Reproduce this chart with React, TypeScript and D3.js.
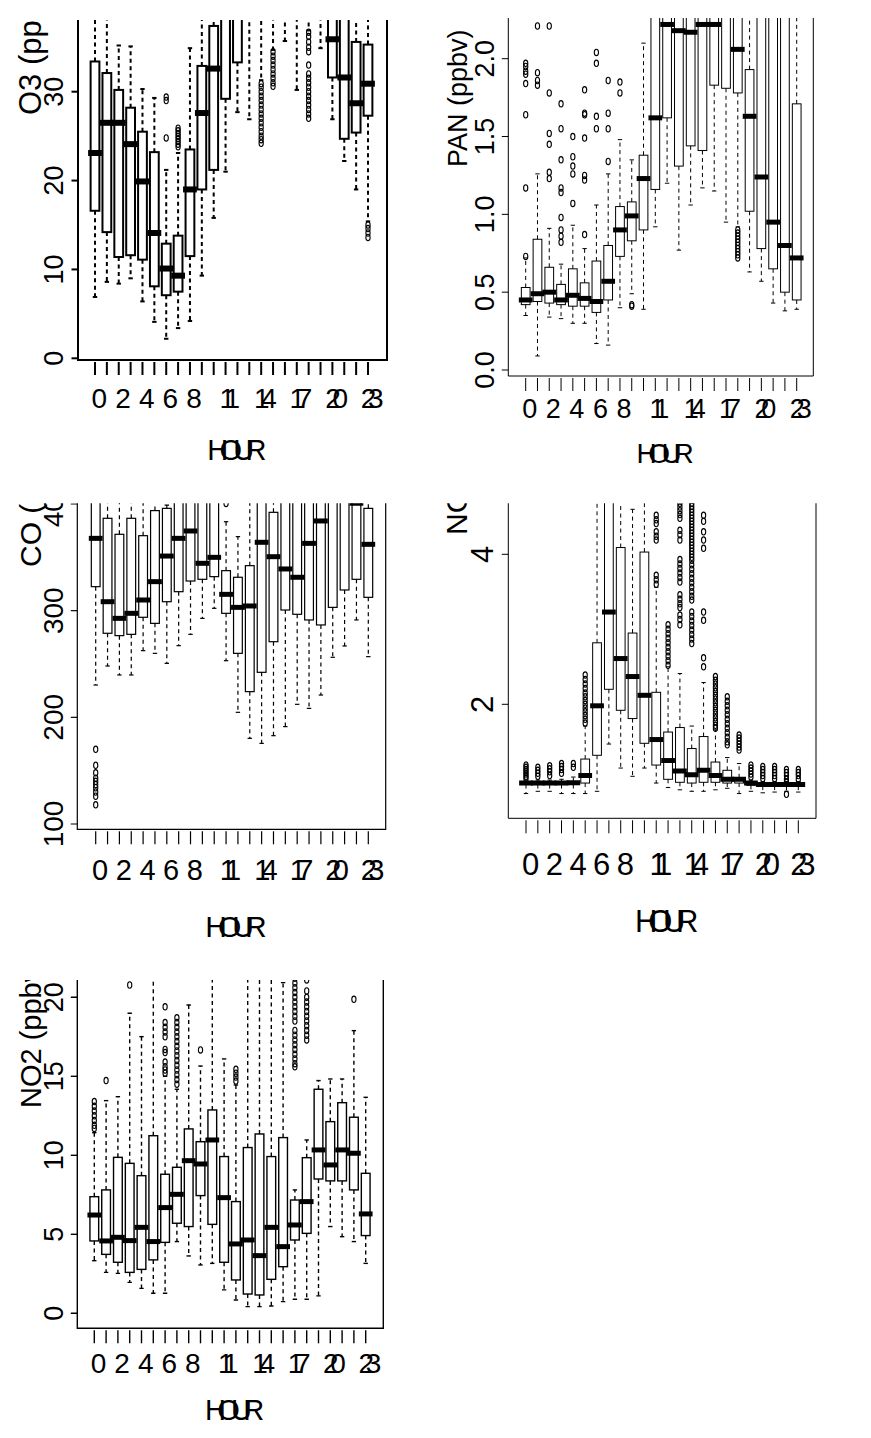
import React from "react";
import * as d3 from "d3";

const FONT = "'Liberation Sans', Arial, Helvetica, sans-serif";

const hours = [0, 1, 2, 3, 4, 5, 6, 7, 8, 9, 10, 11, 12, 13, 14, 15, 16, 17, 18, 19, 20, 21, 22, 23];
const labeledHours = [0, 2, 4, 6, 8, 11, 14, 17, 20, 23];

// ---------- O3 ----------
const o3Low = [6.9, 8.6, 8.4, 9.0, 6.4, 4.1, 2.2, 3.4, 4.2, 9.3, 15.8, 21.0, 27.7, 26.9, 31.3, 34.7, 35.7, 30.2, 36.9, 34.9, 26.9, 22.2, 19.0, 15.4];
const o3Q1 = [16.6, 14.2, 11.4, 11.6, 11.1, 8.1, 7.1, 7.5, 11.5, 19.0, 21.2, 29.2, 33.3, 39.5, 40.5, 41.0, 42.0, 40.0, 42.0, 41.0, 31.6, 24.7, 25.4, 27.3];
const o3Med = [23.1, 26.5, 26.5, 24.1, 19.9, 14.1, 10.1, 9.3, 19.0, 27.6, 32.6, 40.0, 42.0, 45.0, 46.0, 47.0, 48.0, 46.0, 47.0, 46.0, 35.9, 31.6, 28.7, 30.9];
const o3Q3 = [33.4, 32.1, 30.2, 28.2, 25.5, 23.2, 12.9, 13.8, 23.5, 32.9, 37.4, 50.0, 52.0, 55.0, 54.0, 55.0, 56.0, 54.0, 55.0, 53.0, 41.0, 40.0, 35.6, 35.3];
const o3High = [45, 44, 35.2, 35.1, 30.3, 29.3, 21.2, 23.1, 34.9, 46, 50, 60, 62, 65, 64, 66, 66, 64, 65, 63, 48, 47, 45, 43];
const o3Out = [
  [], [], [], [], [], [],
  [29.4, 29.0, 24.8],
  [25.9, 25.6, 25.3, 25.0, 24.7, 24.4, 24.1, 23.8],
  [], [], [], [], [], [],
  [30.9, 30.5, 30.0, 29.5, 29.0, 28.5, 28.0, 27.5, 27.0, 26.5, 26.0, 25.5, 25.0, 24.6, 24.2],
  [34.5, 34.0, 33.5, 33.0, 32.5, 32.0, 31.5, 31.0, 30.6],
  [], [],
  [36.7, 36.2, 35.6, 35.0, 34.5, 33.0, 32.0, 31.5, 31.0, 30.5, 30.0, 29.5, 29.0, 28.5, 28.0, 27.5, 27.0],
  [], [], [], [],
  [15.0, 14.6, 14.1, 13.6],
];

// ---------- PAN ----------
const panLow = [0.35, 0.09, 0.34, 0.33, 0.30, 0.30, 0.17, 0.16, 0.40, 0.49, 0.39, 0.92, 1.20, 0.77, 1.06, 1.17, 1.15, 0.95, 0.92, 0.63, 0.57, 0.43, 0.38, 0.39];
const panQ1 = [0.42, 0.44, 0.43, 0.42, 0.41, 0.41, 0.37, 0.45, 0.73, 0.83, 0.90, 1.16, 1.62, 1.31, 1.44, 1.41, 1.83, 1.81, 1.78, 1.02, 0.78, 0.65, 0.50, 0.45];
const panMed = [0.45, 0.49, 0.50, 0.45, 0.48, 0.46, 0.44, 0.57, 0.90, 0.99, 1.23, 1.62, 2.22, 2.18, 2.17, 2.22, 2.22, 2.32, 2.06, 1.63, 1.24, 0.95, 0.80, 0.72];
const panQ3 = [0.53, 0.84, 0.66, 0.55, 0.65, 0.56, 0.70, 0.80, 1.05, 1.08, 1.38, 2.50, 2.60, 2.70, 2.60, 2.70, 2.60, 2.70, 2.50, 1.93, 2.40, 2.35, 2.30, 1.71];
const panHigh = [0.72, 1.26, 0.91, 0.68, 0.93, 0.78, 1.06, 1.26, 1.48, 1.35, 2.10, 3.0, 3.2, 3.3, 3.2, 3.3, 3.2, 3.3, 3.0, 2.8, 2.9, 2.8, 2.7, 2.6];
const panOut = [
  [0.73, 1.17, 1.64, 1.84, 1.90, 1.92, 1.95, 1.97],
  [2.21, 1.91, 1.86, 1.83],
  [2.21, 1.78, 1.52, 1.45, 1.27, 1.23],
  [1.71, 1.55, 1.35, 1.17, 1.14, 0.98, 0.90, 0.86, 0.82],
  [1.50, 1.37, 1.31, 1.26, 1.07],
  [1.80, 1.65, 1.64, 1.49, 1.25, 1.22, 0.87],
  [2.04, 1.97, 1.63, 1.55],
  [1.86, 1.65, 1.55, 1.34],
  [1.85, 1.78],
  [0.42, 0.41],
  [], [], [], [], [], [], [], [],
  [0.90, 0.88, 0.86, 0.84, 0.82, 0.80, 0.78, 0.76, 0.74, 0.72],
  [], [], [], [], [],
];

// ---------- CO ----------
const coLow = [230.3, 248.1, 239.7, 239.7, 262.5, 260, 250.6, 267.2, 277.8, 292.8, 302.2, 253.1, 204.7, 180.3, 175.6, 182.8, 191.3, 212.2, 208.4, 220.9, 256.3, 266.9, 291.3, 256.9];
const coQ1 = [322.5, 278.8, 276.6, 277.8, 293.8, 288.1, 308.4, 317.8, 327.8, 329.4, 331.9, 297.5, 260, 224.1, 242.2, 270.9, 300.6, 296.6, 291.3, 286.6, 303.1, 319.4, 329.4, 312.5];
const coMed = [367.8, 308.4, 292.8, 297.5, 310.0, 327.2, 351.2, 367.8, 374.7, 344.4, 350, 315.3, 303.1, 304.4, 364.1, 350.6, 339.1, 331.3, 363.1, 384.1, 410, 415, 400.6, 362.2];
const coQ3 = [410, 386.6, 371.6, 386.6, 370.3, 393.8, 395.9, 420, 415, 410, 405, 337.5, 331.3, 342.2, 410, 392.2, 408, 412, 415, 420, 430, 425, 430, 395.9];
const coHigh = [450, 440, 435, 445, 430, 440, 399, 460, 450, 440, 430, 383.4, 369.4, 420, 450, 440, 445, 450, 455, 460, 470, 460, 470, 450];
const coOut = [
  [170, 155, 148, 143, 140, 137, 134, 130, 126, 118],
  [], [], [], [], [], [], [], [], [], [],
  [400.5],
  [], [], [], [], [], [], [], [], [], [], [], [],
];

// ---------- NO ----------
const noLow = [0.81, 0.84, 0.84, 0.81, 0.81, 0.81, 0.84, 1.47, 1.15, 1.04, 1.15, 0.95, 0.89, 0.86, 0.84, 0.84, 0.86, 0.88, 0.81, 0.84, 0.82, 0.83, 0.84, 0.83];
const noQ1 = [0.93, 0.93, 0.93, 0.93, 0.93, 0.95, 1.32, 2.20, 1.92, 1.81, 1.48, 1.19, 1.00, 0.96, 0.95, 0.96, 0.96, 0.95, 0.95, 0.92, 0.91, 0.91, 0.91, 0.91];
const noMed = [0.95, 0.95, 0.95, 0.95, 0.955, 1.05, 1.98, 3.23, 2.61, 2.37, 2.12, 1.53, 1.25, 1.11, 1.06, 1.12, 1.05, 1.00, 1.00, 0.95, 0.93, 0.93, 0.93, 0.93];
const noQ3 = [0.96, 0.96, 0.96, 0.96, 0.97, 1.27, 2.82, 5.00, 4.09, 2.95, 4.03, 2.16, 1.63, 1.69, 1.41, 1.57, 1.23, 1.12, 1.02, 0.96, 0.94, 0.94, 0.94, 0.94];
const noHigh = [0.99, 0.99, 0.99, 1.00, 1.03, 1.71, 5.5, 6.5, 6.0, 4.6, 5.8, 3.56, 2.50, 2.41, 1.71, 2.29, 1.66, 1.29, 1.21, 0.99, 0.97, 0.97, 0.97, 0.97];
const noOut = [
  [1.19, 1.16, 1.13, 1.10, 1.07, 1.04, 1.01],
  [1.16, 1.12, 1.08, 1.04],
  [1.18, 1.14, 1.10, 1.05],
  [1.21, 1.17, 1.13, 1.08],
  [1.21, 1.16],
  [2.39, 2.33, 2.27, 2.21, 2.15, 2.10, 2.05, 2.00, 1.95, 1.90, 1.85, 1.80, 1.75],
  [], [], [], [], [],
  [4.52, 4.46, 4.41, 4.30, 4.24, 4.19, 3.72, 3.66, 3.60],
  [3.06, 3.00, 2.94, 2.88, 2.82, 2.76, 2.70, 2.64, 2.58, 2.52],
  [4.68, 4.63, 4.58, 4.53, 4.48, 4.32, 4.26, 4.19, 3.93, 3.87, 3.81, 3.75, 3.69, 3.63, 3.46, 3.40, 3.34, 3.29, 3.19, 3.13, 3.06],
  [4.68, 4.64, 4.60, 4.56, 4.52, 4.48, 4.44, 4.40, 4.36, 4.32, 4.28, 4.24, 4.20, 4.16, 4.12, 4.08, 4.04, 4.00, 3.96, 3.92, 3.86, 3.80, 3.74, 3.68, 3.62, 3.56, 3.50, 3.44, 3.39, 3.23, 3.17, 3.11, 3.05, 2.99, 2.93, 2.87, 2.81],
  [4.52, 4.44, 4.30, 4.19, 4.08, 3.23, 3.12, 2.62, 2.50],
  [2.37, 2.32, 2.27, 2.22, 2.17, 2.12, 2.07, 2.02, 1.97, 1.92, 1.87, 1.82, 1.77, 1.72, 1.68],
  [2.10, 2.04, 1.98, 1.92, 1.86, 1.80, 1.74, 1.68, 1.62, 1.56, 1.50, 1.46],
  [1.59, 1.55, 1.51, 1.47, 1.43, 1.39],
  [1.19, 1.15, 1.11, 1.07, 1.03],
  [1.17, 1.13, 1.09, 1.05, 1.01],
  [1.17, 1.13, 1.09, 1.05, 1.01],
  [1.13, 1.09, 1.05, 1.00, 0.96, 0.80],
  [1.13, 1.09, 1.05, 1.00],
];

// ---------- NO2 ----------
const no2Low = [3.33, 2.59, 2.53, 1.96, 1.58, 1.27, 1.27, 4.54, 3.63, 3.06, 3.16, 1.48, 0.84, 0.42, 0.42, 0.46, 0.74, 0.89, 0.89, 1.10, 5.49, 4.85, 4.54, 3.16];
const no2Q1 = [4.58, 3.73, 3.23, 2.59, 2.78, 3.38, 4.49, 5.70, 5.49, 7.45, 5.63, 3.23, 2.11, 1.22, 1.16, 2.15, 2.95, 4.64, 5.06, 8.50, 8.38, 8.38, 7.81, 4.92];
const no2Med = [6.22, 4.58, 4.81, 4.60, 5.44, 4.54, 6.69, 7.53, 9.66, 9.45, 10.97, 7.32, 4.39, 4.64, 3.65, 5.44, 4.22, 5.59, 7.07, 10.34, 9.39, 10.34, 10.13, 6.29];
const no2Q3 = [7.38, 7.81, 9.87, 9.49, 8.71, 11.24, 8.80, 9.24, 11.67, 10.86, 12.87, 9.92, 7.07, 10.49, 11.35, 9.92, 11.12, 7.17, 9.85, 14.18, 12.13, 13.33, 12.41, 8.86];
const no2High = [11.43, 13.46, 13.71, 18.99, 17.51, 23, 15.0, 14.18, 19.51, 15.65, 24, 16.1, 14.45, 24, 25, 23, 20.93, 7.81, 10.97, 14.73, 14.83, 14.83, 17.89, 13.67];
const no2Out = [
  [13.4, 13.1, 12.8, 12.5, 12.2, 11.9, 11.7],
  [14.73],
  [],
  [20.78],
  [], [],
  [19.4, 18.4, 18.1, 17.8, 17.5, 16.7, 16.5, 15.9, 15.6, 15.4, 15.2],
  [18.7, 18.4, 18.1, 17.8, 17.5, 17.2, 16.9, 16.6, 16.3, 16.0, 15.7, 15.4, 15.1, 14.8, 14.5],
  [],
  [16.67],
  [], [],
  [15.44, 15.2, 14.95, 14.7],
  [], [], [], [],
  [21.2, 20.9, 20.6, 20.3, 20.0, 19.7, 19.4, 19.1, 18.8, 18.5, 17.9, 17.6, 17.3, 17.0, 16.7, 16.4, 16.1, 15.8, 15.6],
  [21.1, 20.4, 20.0, 19.7, 19.4, 19.1, 18.8, 18.5, 18.2, 17.9, 17.6, 17.3],
  [], [], [],
  [19.87],
  [],
];

const o3Ticks = [0, 10, 20, 30];
const panTicks = [0, 0.5, 1.0, 1.5, 2.0];
const coTicks = [100, 200, 300, 400];
const noTicks = [2, 4];
const no2Ticks = [0, 5, 10, 15, 20];

const panels = [
  {
    key: "o3", title: "O3 (ppbv)", low: o3Low, q1: o3Q1, med: o3Med, q3: o3Q3, high: o3High, out: o3Out,
    ticks: o3Ticks, fmt: (d: number) => String(d),
    left: 78, right: 387, bottom: 360, clipTop: 20, yDomain: [0, 30], yRange: [358.3, 91.7], x0: 95, x23: 368,
    titleX: 41, titleY: 115, yLabX: 63, xLabY: 408, hourY: 460, sw: 2, medW: 6,
    fTick: 27, fX: 28, fHour: 29, fTitle: 31,
  },
  {
    key: "pan", title: "PAN (ppbv)", low: panLow, q1: panQ1, med: panMed, q3: panQ3, high: panHigh, out: panOut,
    ticks: panTicks, fmt: d3.format(".1f"),
    left: 508.3, right: 813.3, bottom: 376, clipTop: 18, yDomain: [0, 2], yRange: [370, 58.7], x0: 525.7, x23: 796.7,
    titleX: 467, titleY: 167, yLabX: 494, xLabY: 418, hourY: 463, sw: 1, medW: 5,
    fTick: 27, fX: 27, fHour: 28, fTitle: 27,
  },
  {
    key: "co", title: "CO (ppbv)", low: coLow, q1: coQ1, med: coMed, q3: coQ3, high: coHigh, out: coOut,
    ticks: coTicks, fmt: (d: number) => String(d),
    left: 77.3, right: 385.7, bottom: 829.3, clipTop: 503.3, yDomain: [100, 400], yRange: [824, 504], x0: 95.7, x23: 368.3,
    titleX: 41, titleY: 567, yLabX: 63, xLabY: 880, hourY: 937, sw: 1.2, medW: 5,
    fTick: 28, fX: 29, fHour: 30, fTitle: 30,
  },
  {
    key: "no", title: "NO (ppbv)", low: noLow, q1: noQ1, med: noMed, q3: noQ3, high: noHigh, out: noOut,
    ticks: noTicks, fmt: (d: number) => String(d),
    left: 508.3, right: 816, bottom: 818.3, clipTop: 503.3, yDomain: [2, 4], yRange: [704.3, 554.3], x0: 526, x23: 798.3,
    titleX: 467, titleY: 535, yLabX: 493, xLabY: 875, hourY: 932, sw: 1, medW: 5,
    fTick: 31, fX: 31, fHour: 31, fTitle: 30,
  },
  {
    key: "no2", title: "NO2 (ppbv)", low: no2Low, q1: no2Q1, med: no2Med, q3: no2Q3, high: no2High, out: no2Out,
    ticks: no2Ticks, fmt: (d: number) => String(d),
    left: 77.3, right: 383.3, bottom: 1328.3, clipTop: 980, yDomain: [0, 20], yRange: [1313.3, 997.3], x0: 94.3, x23: 365.7,
    titleX: 41, titleY: 1108, yLabX: 63, xLabY: 1373, hourY: 1420, sw: 1.4, medW: 5,
    fTick: 27, fX: 28, fHour: 29, fTitle: 29,
  },
];

type P = (typeof panels)[number];

function Panel({ p }: { p: P }) {
  const y = d3.scaleLinear().domain(p.yDomain).range(p.yRange);
  const x = d3.scaleLinear().domain([0, 23]).range([p.x0, p.x23]);
  const step = x(1) - x(0);
  const bw = step * 0.74;
  const staple = bw * 0.5;
  const ext = 2.5;
  const clipId = `clip-${p.key}`;
  const cx = (p.left + p.right) / 2;
  return (
    <g>
      <defs>
        <clipPath id={clipId}>
          <rect x={0} y={p.clipTop} width={871} height={p.bottom + 20 - p.clipTop} />
        </clipPath>
      </defs>
      <g clipPath={`url(#${clipId})`}>
        <text
          x={p.titleX}
          y={p.titleY}
          transform={`rotate(-90, ${p.titleX}, ${p.titleY})`}
          fontSize={p.fTitle}
          fontFamily={FONT}
          textAnchor="start"
          fill="#000"
        >
          {p.title}
        </text>
        {p.ticks.map((t) => (
          <g key={`yt${t}`}>
            <line x1={p.left - 6.5} x2={p.left} y1={y(t)} y2={y(t)} stroke="#000" strokeWidth={p.sw} />
            <text
              x={p.yLabX}
              y={y(t)}
              transform={`rotate(-90, ${p.yLabX}, ${y(t)})`}
              fontSize={p.fTick}
              fontFamily={FONT}
              textAnchor="middle"
              fill="#000"
            >
              {p.fmt(t)}
            </text>
          </g>
        ))}
        <path
          d={`M${p.left},${p.clipTop - 20}V${p.bottom}H${p.right}V${p.clipTop - 20}`}
          fill="none"
          stroke="#000"
          strokeWidth={p.sw}
        />
        {hours.map((h, i) => {
          const c = x(h);
          const yq1 = y(p.q1[i]);
          const yq3 = y(p.q3[i]);
          return (
            <g key={`b${h}`}>
              <line x1={c} x2={c} y1={yq3} y2={y(p.high[i])} stroke="#000" strokeWidth={p.sw} strokeDasharray="4,3.5" />
              <line x1={c} x2={c} y1={yq1} y2={y(p.low[i])} stroke="#000" strokeWidth={p.sw} strokeDasharray="4,3.5" />
              <line x1={c - staple / 2} x2={c + staple / 2} y1={y(p.high[i])} y2={y(p.high[i])} stroke="#000" strokeWidth={p.sw} />
              <line x1={c - staple / 2} x2={c + staple / 2} y1={y(p.low[i])} y2={y(p.low[i])} stroke="#000" strokeWidth={p.sw} />
              <rect x={c - bw / 2} y={yq3} width={bw} height={yq1 - yq3} fill="none" stroke="#000" strokeWidth={p.sw} />
              <line
                x1={c - bw / 2 - ext}
                x2={c + bw / 2 + ext}
                y1={y(p.med[i])}
                y2={y(p.med[i])}
                stroke="#000"
                strokeWidth={p.medW}
              />
              {p.out[i].map((v, j) => (
                <ellipse key={j} cx={c} cy={y(v)} rx={2.1} ry={3.2} fill="none" stroke="#000" strokeWidth={1.1} />
              ))}
            </g>
          );
        })}
      </g>
      {hours.map((h) => (
        <line key={`xt${h}`} x1={x(h)} x2={x(h)} y1={p.bottom + 2} y2={p.bottom + 15} stroke="#000" strokeWidth={p.sw} />
      ))}
      {labeledHours.map((h) => (
        <text
          key={`xl${h}`}
          x={x(h)}
          y={p.xLabY}
          fontSize={p.fX}
          fontFamily={FONT}
          textAnchor="middle"
          letterSpacing="-0.3em"
          fill="#000"
        >
          {String(h)}
        </text>
      ))}
      <text
        x={cx}
        y={p.hourY}
        fontSize={p.fHour}
        fontFamily={FONT}
        textAnchor="middle"
        letterSpacing="-0.3em"
        fill="#000"
      >
        HOUR
      </text>
    </g>
  );
}

export default function App() {
  return (
    <svg
      width={871}
      height={1438}
      viewBox="0 0 871 1438"
      style={{ position: "absolute", left: 0, top: 0, background: "#fff" }}
    >
      <rect x={0} y={0} width={871} height={1438} fill="#fff" />
      {panels.map((p) => (
        <Panel key={p.key} p={p} />
      ))}
    </svg>
  );
}
